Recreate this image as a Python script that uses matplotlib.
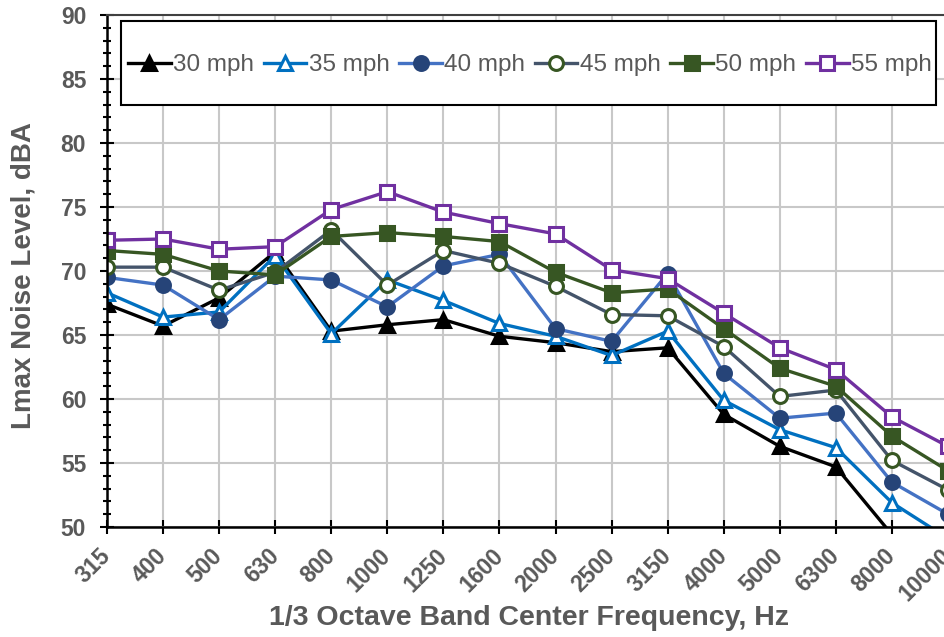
import matplotlib.pyplot as plt
from matplotlib.patches import Rectangle
from matplotlib.ticker import MultipleLocator

# 1/3 octave band levels
freqs = ['315', '400', '500', '630', '800', '1000', '1250', '1600', '2000',
         '2500', '3150', '4000', '5000', '6300', '8000', '10000']
mph_30 = [67.4, 65.7, 67.9, 71.5, 65.3, 65.8, 66.2, 64.9, 64.4, 63.7, 64.0, 58.8, 56.3, 54.7, 49.4, 45.0]
mph_35 = [68.3, 66.4, 66.8, 71.2, 65.1, 69.3, 67.7, 65.9, 64.9, 63.4, 65.3, 59.9, 57.6, 56.2, 51.9, 49.1]
mph_40 = [69.5, 68.9, 66.2, 69.6, 69.3, 67.2, 70.4, 71.3, 65.5, 64.5, 69.8, 62.0, 58.5, 58.9, 53.5, 51.0]
mph_45 = [70.3, 70.3, 68.5, 69.9, 73.2, 68.9, 71.6, 70.6, 68.8, 66.6, 66.5, 64.1, 60.2, 60.7, 55.2, 52.9]
mph_50 = [71.6, 71.3, 70.0, 69.7, 72.7, 73.0, 72.7, 72.3, 69.9, 68.3, 68.6, 65.5, 62.4, 61.0, 57.1, 54.4]
mph_55 = [72.4, 72.5, 71.7, 71.9, 74.8, 76.2, 74.6, 73.7, 72.9, 70.1, 69.4, 66.7, 64.0, 62.3, 58.6, 56.3]

series = [
    ('30 mph', mph_30, 'black', '^', 'black', 'black'),
    ('35 mph', mph_35, '#0070C0', '^', 'white', '#0070C0'),
    ('40 mph', mph_40, '#4472C4', 'o', '#264478', '#264478'),
    ('45 mph', mph_45, '#44546A', 'o', 'white', '#375623'),
    ('50 mph', mph_50, '#375623', 's', '#375623', '#375623'),
    ('55 mph', mph_55, '#7030A0', 's', 'white', '#7030A0'),
]

plt.rcParams['font.family'] = ['Liberation Sans', 'DejaVu Sans']
gray = '#595959'

fig = plt.figure(figsize=(9.45, 6.37), dpi=100)
ax = fig.add_axes([107 / 945, 110 / 637, 841 / 945, 512 / 637])

x = list(range(len(freqs)))
for label, vals, lc, mk, mfc, mec in series:
    ax.plot(x, vals, color=lc, linewidth=2.4, marker=mk, markersize=10,
            markerfacecolor=mfc, markeredgecolor=mec, markeredgewidth=2.2,
            label=label)

ax.set_xlim(0, 15)
ax.set_ylim(50, 90)
ax.set_xticks(x)
ax.set_xticklabels(freqs, rotation=45, ha='right', va='center', rotation_mode='anchor')
ax.yaxis.set_major_locator(MultipleLocator(5))
ax.yaxis.set_minor_locator(MultipleLocator(1))
ax.tick_params(axis='both', which='major', direction='inout', length=10, width=1.5,
               colors='black', labelcolor=gray, labelsize=16.5)
ax.tick_params(axis='y', which='major', pad=10)
ax.tick_params(axis='x', which='major', pad=13.5)
ax.tick_params(axis='y', which='minor', direction='inout', length=6, width=1.5)
for t in ax.get_xticklabels() + ax.get_yticklabels():
    t.set_fontweight('bold')

ax.grid(True, which='major', color='#C8C8C8', linewidth=1.5)
ax.set_axisbelow(True)
ax.spines['left'].set_linewidth(1.8)
ax.spines['bottom'].set_linewidth(1.8)
ax.spines['top'].set_color('#404040')
ax.spines['top'].set_linewidth(1.5)
ax.spines['right'].set_visible(False)

fig.text(529 / 945, 1 - 618 / 637, '1/3 Octave Band Center Frequency, Hz', fontsize=20.5,
         fontweight='bold', color=gray, ha='center', va='center')
fig.text(24 / 945, 1 - 276 / 637, 'Lmax Noise Level, dBA', fontsize=20, fontweight='bold',
         color=gray, ha='center', va='center', rotation=90)

# legend box drawn separately so it can be sized like the original
fig.patches.append(Rectangle((121 / 945, 1 - 105 / 637), 815 / 945, 84 / 637,
                             transform=fig.transFigure, facecolor='white',
                             edgecolor='black', linewidth=1.5, zorder=5))
leg = fig.legend(loc='center', bbox_to_anchor=(530 / 945, 1 - 65 / 637),
                 ncol=6, fontsize=17.5, frameon=False,
                 handlelength=1.75, handletextpad=0.1, columnspacing=0.4,
                 borderaxespad=0, borderpad=0)
leg.set_zorder(6)
for t in leg.get_texts():
    t.set_color(gray)

fig.savefig('out.png', dpi=100)
